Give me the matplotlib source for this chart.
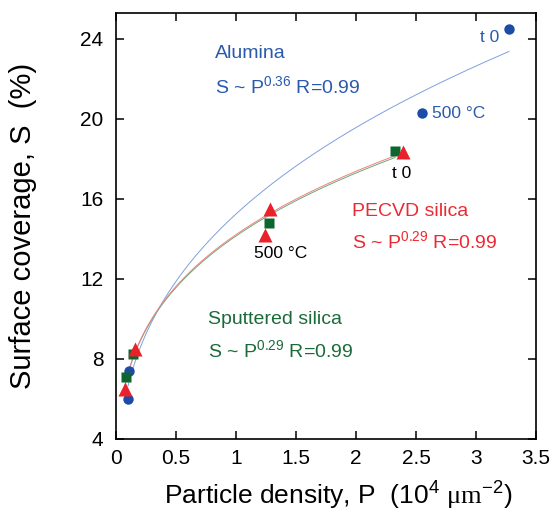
import numpy as np
import matplotlib
matplotlib.use("Agg")
import matplotlib.pyplot as plt

plt.rcParams["font.family"] = ["Liberation Sans", "DejaVu Sans"]
plt.rcParams["mathtext.fontset"] = "custom"
plt.rcParams["mathtext.rm"] = "Liberation Serif"
plt.rcParams["mathtext.sf"] = "Liberation Sans"

# Particle density P (1e4 um^-2) and surface coverage S (%)
alumina_p = [0.10, 0.11, 2.55, 3.275]
alumina_s = [6.0, 7.4, 20.3, 24.5]
sputtered_p = [0.08, 0.14, 1.275, 2.325]
sputtered_s = [7.1, 8.25, 14.8, 18.4]
pecvd_p = [0.075, 0.16, 1.24, 1.283, 2.39]
pecvd_s = [6.5, 8.5, 14.2, 15.5, 18.35]

# Power-law fits S = a * P^b
alumina_fit = (15.25, 0.36)
sputtered_fit = (14.15, 0.29)
pecvd_fit = (14.22, 0.29)

x_ticks = [0, 0.5, 1, 1.5, 2, 2.5, 3, 3.5]
x_tick_labels = ["0", "0.5", "1", "1.5", "2", "2.5", "3", "3.5"]
y_ticks = [4, 8, 12, 16, 20, 24]

blue = "#1d4ca8"
green = "#0d6630"
red = "#e8212b"
blue_txt = "#2a5aab"
green_txt = "#1b6b3a"
red_txt = "#ec2a33"

fig = plt.figure(figsize=(5.53, 5.19), dpi=100)
ax = fig.add_axes([116 / 553, 1 - 439 / 519, 420 / 553, 426 / 519])


def fit_curve(p, fit, color):
    a, b = fit
    xs = np.linspace(min(p), max(p), 300)
    ax.plot(xs, a * xs ** b, color=color, lw=0.7, zorder=2)


fit_curve(alumina_p, alumina_fit, "#7f9fe0")
fit_curve(sputtered_p, sputtered_fit, "#6aa97c")
fit_curve(pecvd_p, pecvd_fit, "#f08080")

ax.plot(alumina_p, alumina_s, "o", color=blue, ms=7.5, mec="none", zorder=3)
ax.plot(sputtered_p, sputtered_s, "s", color=green, ms=7.2, mec="none", zorder=3)
ax.plot(pecvd_p, pecvd_s, "^", color=red, ms=10, mec="none", zorder=4)

ax.set_xlim(0, 3.5)
ax.set_ylim(4, 25.3)
ax.set_xticks(x_ticks)
ax.set_xticklabels(x_tick_labels)
ax.set_yticks(y_ticks)
ax.tick_params(direction="in", length=6, width=1.1, top=True, right=True,
               labeltop=False, labelright=False, labelsize=15)
ax.tick_params(axis="y", pad=9)
ax.tick_params(axis="x", pad=7)
for sp in ax.spines.values():
    sp.set_linewidth(1.2)

fs = 14
ax.text(0.825, 23.3, "Alumina", color=blue_txt, fontsize=fs, va="center")
ax.text(0.825, 21.6, r"S ~ P$^{\mathsf{0.36}}$ R=0.99", color=blue_txt, fontsize=fs, va="center")
ax.text(3.19, 24.05, "t 0", color=blue_txt, fontsize=12.5, va="center", ha="right")
ax.text(2.63, 20.3, "500 °C", color=blue_txt, fontsize=12.5, va="center")
ax.text(2.38, 17.3, "t 0", color="black", fontsize=12.5, va="center", ha="center")
ax.text(1.37, 13.3, "500 °C", color="black", fontsize=12.5, va="center", ha="center")
ax.text(1.967, 15.4, "PECVD silica", color=red_txt, fontsize=fs, va="center")
ax.text(1.967, 13.85, r"S ~ P$^{\mathsf{0.29}}$ R=0.99", color=red_txt, fontsize=fs, va="center")
ax.text(0.767, 9.95, "Sputtered silica", color=green_txt, fontsize=fs, va="center")
ax.text(0.767, 8.4, r"S ~ P$^{\mathsf{0.29}}$ R=0.99", color=green_txt, fontsize=fs, va="center")

fig.text(338 / 553, 1 - 495 / 519,
         r"Particle density, P  (10$^{\mathsf{4}}$ $\mathrm{\mu m}^{\mathsf{-2}}$)",
         fontsize=19, ha="center", va="center")
fig.text(23 / 553, 1 - 226 / 519, "Surface coverage, S  (%)",
         fontsize=21, ha="center", va="center", rotation=90)

fig.savefig("out.png", dpi=100)
